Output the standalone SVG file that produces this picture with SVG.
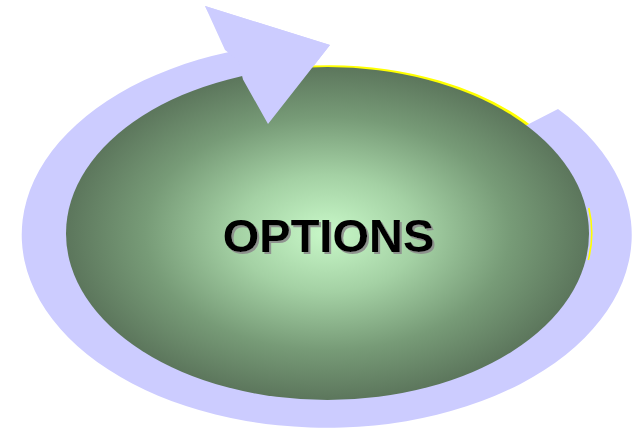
<svg xmlns="http://www.w3.org/2000/svg" width="632" height="431" viewBox="0 0 632 431">
  <defs>
    <radialGradient id="greenGrad" cx="0.5" cy="0.5" r="0.5" gradientUnits="objectBoundingBox">
      <stop offset="0" stop-color="#c8f8c8"/>
      <stop offset="0.35" stop-color="#a4d1a4"/>
      <stop offset="0.7" stop-color="#779b77"/>
      <stop offset="1" stop-color="#5c765c"/>
    </radialGradient>
    <filter id="shadow" x="-10%" y="-20%" width="120%" height="150%">
      <feDropShadow dx="2" dy="2" stdDeviation="0.4" flood-color="#8a8a8a" flood-opacity="0.9"/>
    </filter>
    <style>
      .lav { fill: #ccccff; stroke: none; }
      .rim { fill: none; stroke: #ffff00; }
      .label { font-family: "Liberation Sans", Arial, sans-serif; font-weight: bold; font-size: 47px; text-anchor: middle; fill: #000000; }
    </style>
  </defs>
  <rect width="632" height="431" fill="#ffffff"/>
  <g id="connectors">
    <path id="yellow-rim-top" class="rim" stroke-width="3.5" d="M 312 67.3 A 261.5 166.5 0 0 1 540 135"/>
    <path id="ring" class="lav" d="M 558 109 A 305 193 0 1 1 229 52 L 205 6 L 330 45 L 268 124 L 243 79.5 A 258 163 0 1 0 523 127 Z"/>
  </g>
  <g id="options-node">
    <path class="rim" stroke-width="1.6" d="M 588.8 208 A 261.5 166.5 0 0 1 588.3 260"/>
    <ellipse cx="327.5" cy="233.5" rx="261.5" ry="166.5" fill="url(#greenGrad)"/>
    <text x="328.5" y="252" class="label" filter="url(#shadow)">OPTIONS</text>
  </g>
  <g id="arrowhead">
    <polygon class="lav" points="225,50 205,6 330,45 268,124 243,79.5 238,60"/>
  </g>
</svg>
